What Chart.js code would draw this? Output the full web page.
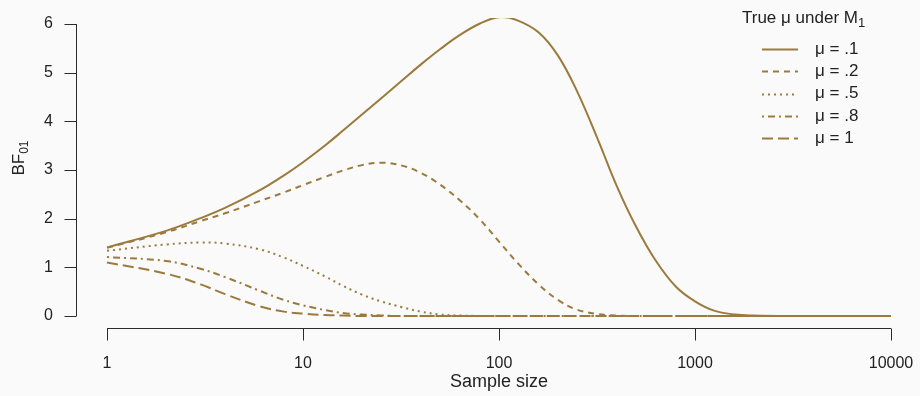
<!DOCTYPE html>
<html><head><meta charset="utf-8">
<script src="https://cdn.jsdelivr.net/npm/chart.js@4/dist/chart.umd.min.js"></script>
<style>html,body{margin:0;padding:0;background:#fafafa;}#wrap{width:920px;height:396px;position:relative;}</style>
</head><body><div id="wrap"><canvas id="c"></canvas></div>
<script>
// ---- data ----
const sampleSizes = [1,2,3,4,6,8,10,13,16,20,25,32,40,50,63,80,100,125,160,200,250,320,400,500,630,800,1000,1250,1600,2000,3200,5000,10000];
const bfMu01 = [1.41,1.75,2.01,2.22,2.58,2.89,3.16,3.51,3.81,4.14,4.47,4.84,5.17,5.48,5.77,6.01,6.14,6.07,5.82,5.35,4.62,3.62,2.66,1.84,1.14,0.60,0.30,0.11,0.03,0.01,0,0,0];
const bfMu02 = [1.40,1.72,1.95,2.11,2.36,2.54,2.69,2.86,2.99,3.10,3.15,3.09,2.94,2.70,2.38,1.98,1.53,1.08,0.64,0.33,0.13,0.04,0.01,0,0,0,0,0,0,0,0,0,0];
const bfMu05 = [1.34,1.47,1.51,1.49,1.37,1.20,1.03,0.81,0.62,0.44,0.30,0.18,0.09,0.03,0.01,0,0,0,0,0,0,0,0,0,0,0,0,0,0,0,0,0,0];
const bfMu08 = [1.21,1.13,0.97,0.80,0.52,0.33,0.22,0.12,0.06,0.03,0.01,0,0,0,0,0,0,0,0,0,0,0,0,0,0,0,0,0,0,0,0,0,0];
const bfMu10 = [1.10,0.87,0.65,0.45,0.20,0.09,0.05,0.02,0.01,0,0,0,0,0,0,0,0,0,0,0,0,0,0,0,0,0,0,0,0,0,0,0,0];
const seriesLabels = ['μ = .1','μ = .2','μ = .5','μ = .8','μ = 1'];
const xTickValues = [1,10,100,1000,10000];
const yTickValues = [0,1,2,3,4,5,6];

const LINE = '#9b7b3d';
const FONT = "'Liberation Sans', Arial, Helvetica, sans-serif";
const dashes = [[], [6,5], [2,4], [2,4,7,4], [11,5]];
const allSeries = [bfMu01, bfMu02, bfMu05, bfMu08, bfMu10];

const datasets = allSeries.map((arr, i) => ({
  label: seriesLabels[i],
  data: sampleSizes.map((n, j) => ({x: n, y: arr[j]})),
  borderColor: LINE,
  borderWidth: 2,
  borderDash: dashes[i],
  pointRadius: 0,
  fill: false,
  tension: 0.4,
  clip: 6
}));

const decorPlugin = {
  id: 'decor',
  beforeDraw(chart) {
    const ctx = chart.ctx;
    ctx.save();
    ctx.fillStyle = '#fafafa';
    ctx.fillRect(0, 0, chart.width, chart.height);
    ctx.restore();
  },
  afterDraw(chart) {
    const ctx = chart.ctx;
    const xs = chart.scales.x, ys = chart.scales.y;
    const ca = chart.chartArea;
    ctx.save();
    ctx.strokeStyle = '#2b2b2b';
    ctx.lineWidth = 1;
    // y axis
    const ax = Math.round(ca.left - 31) + 0.5;
    ctx.beginPath();
    ctx.moveTo(ax, ys.getPixelForValue(yTickValues[0]));
    ctx.lineTo(ax, ys.getPixelForValue(yTickValues[yTickValues.length-1]));
    yTickValues.forEach(v => {
      const py = Math.round(ys.getPixelForValue(v)) + 0.5;
      ctx.moveTo(ax - 12, py); ctx.lineTo(ax, py);
    });
    // x axis
    const ay = Math.round(ca.bottom + 12) + 0.5;
    ctx.moveTo(xs.getPixelForValue(xTickValues[0]), ay);
    ctx.lineTo(xs.getPixelForValue(xTickValues[xTickValues.length-1]), ay);
    xTickValues.forEach(v => {
      const px = Math.round(xs.getPixelForValue(v)) + 0.5;
      ctx.moveTo(px, ay); ctx.lineTo(px, ay + 12);
    });
    ctx.stroke();

    // y axis title BF01
    ctx.fillStyle = '#222';
    ctx.save();
    ctx.translate(24, 158);
    ctx.rotate(-Math.PI/2);
    ctx.font = '17px ' + FONT;
    ctx.textBaseline = 'alphabetic';
    const w1 = ctx.measureText('BF').width;
    ctx.font = '12px ' + FONT;
    const w2 = ctx.measureText('01').width;
    const start = -(w1 + w2) / 2;
    ctx.font = '17px ' + FONT;
    ctx.textAlign = 'left';
    ctx.fillText('BF', start, 0);
    ctx.font = '12px ' + FONT;
    ctx.fillText('01', start + w1, 4);
    ctx.restore();

    // legend
    ctx.font = '17px ' + FONT;
    ctx.textAlign = 'left';
    ctx.textBaseline = 'alphabetic';
    ctx.fillText('True μ under M', 742, 23);
    const tw = ctx.measureText('True μ under M').width;
    ctx.font = '13px ' + FONT;
    ctx.fillText('1', 742 + tw, 27);

    ctx.font = '17px ' + FONT;
    ctx.textBaseline = 'middle';
    chart.data.datasets.forEach((ds, i) => {
      const y = 49 + i * 22.3;
      ctx.save();
      ctx.strokeStyle = ds.borderColor;
      ctx.lineWidth = ds.borderWidth;
      ctx.setLineDash(ds.borderDash);
      ctx.beginPath();
      ctx.moveTo(762, Math.round(y) + 0.5);
      ctx.lineTo(798, Math.round(y) + 0.5);
      ctx.stroke();
      ctx.restore();
      ctx.fillText(ds.label, 815, y);
    });
    ctx.restore();
  }
};

new Chart(document.getElementById('c'), {
  type: 'line',
  data: { datasets },
  plugins: [decorPlugin],
  options: {
    responsive: true,
    maintainAspectRatio: false,
    animation: false,
    layout: { padding: { top: 24, right: 29, left: 0, bottom: 0 } },
    plugins: { legend: { display: false }, tooltip: { enabled: false } },
    scales: {
      x: {
        type: 'logarithmic',
        min: 1, max: 10000,
        grid: { display: false, drawTicks: false },
        border: { display: false },
        afterBuildTicks: s => { s.ticks = xTickValues.map(v => ({ value: v })); },
        afterFit: s => { s.height = 80; s.paddingLeft = 0; s.paddingRight = 0; },
        ticks: {
          autoSkip: false, maxRotation: 0, padding: 38,
          color: '#222', font: { size: 16, family: FONT },
          callback: v => String(v)
        },
        title: { display: true, text: 'Sample size', color: '#222', font: { size: 18, family: FONT }, padding: { top: 0, bottom: 3 } }
      },
      y: {
        type: 'linear',
        min: 0, max: 6,
        grid: { display: false, drawTicks: false },
        border: { display: false },
        afterBuildTicks: s => { s.ticks = yTickValues.map(v => ({ value: v })); },
        afterFit: s => { s.width = 107; s.paddingTop = 0; s.paddingBottom = 0; },
        ticks: { padding: 54, color: '#222', font: { size: 16, family: FONT } }
      }
    }
  }
});
</script>
</body></html>
